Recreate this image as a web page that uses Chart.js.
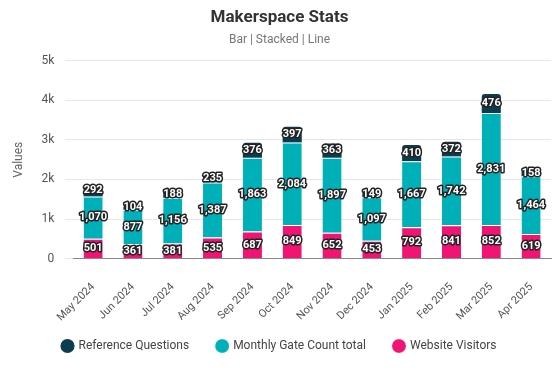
<!DOCTYPE html>
<html>
<head>
<meta charset="utf-8">
<script src="https://cdn.jsdelivr.net/npm/chart.js@4"></script>
<style>
  html, body { margin: 0; padding: 0; background: #fff; }
  #wrap { width: 560px; height: 374px; }
</style>
</head>
<body>
<div id="wrap"><canvas id="myChart"></canvas></div>
<script>
// chart data
var months = ["May 2024", "Jun 2024", "Jul 2024", "Aug 2024", "Sep 2024", "Oct 2024",
              "Nov 2024", "Dec 2024", "Jan 2025", "Feb 2025", "Mar 2025", "Apr 2025"];
var websiteVisitors = [501, 361, 381, 535, 687, 849, 652, 453, 792, 841, 852, 619];
var gateCount = [1070, 877, 1156, 1387, 1863, 2084, 1897, 1097, 1667, 1742, 2831, 1464];
var refQuestions = [292, 104, 188, 235, 376, 397, 363, 149, 410, 372, 476, 158];
var yTicks = [0, 1000, 2000, 3000, 4000, 5000];

// draws the outlined value labels in the middle of each segment
var segLabels = {
    id: "segLabels",
    afterDatasetsDraw: function(chart) {
        var ctx = chart.ctx;
        ctx.save();
        ctx.font = "bold 11px Roboto";
        ctx.textAlign = "center";
        ctx.textBaseline = "middle";
        ctx.lineJoin = "round";
        chart.data.datasets.forEach(function(ds, i) {
            var meta = chart.getDatasetMeta(i);
            if (meta.hidden) return;
            meta.data.forEach(function(bar, j) {
                var txt = ds.data[j].toLocaleString("en-US");
                var y = (bar.y + bar.base) / 2;
                ctx.lineWidth = 3;
                ctx.strokeStyle = "#222";
                ctx.strokeText(txt, bar.x, y);
                ctx.fillStyle = "#fff";
                ctx.fillText(txt, bar.x, y);
            });
        });
        ctx.restore();
    }
};

// legend keeps wide gaps between items but takes less height
var SHRINK = 26;
var legendShift = {
    id: "legendShift",
    beforeLayout: function(chart) {
        var lg = chart.legend;
        if (!lg || lg._patched) return;
        var fit = lg.fit;
        lg.fit = function() { fit.call(this); this.height -= SHRINK; };
        lg._patched = true;
    },
    afterLayout: function(chart) {
        chart.legend.top -= SHRINK;
        chart.legend.height += SHRINK;
    }
};

var ctx = document.getElementById("myChart");
var chart = new Chart(ctx, {
    type: "bar",
    data: {
        labels: months,
        datasets: [{
            label: "Website Visitors",
            backgroundColor: "#f01473",
            borderColor: "#ffffff",
            borderWidth: {top: 1},
            borderSkipped: "bottom",
            data: websiteVisitors
        }, {
            label: "Monthly Gate Count total",
            backgroundColor: "#00b0b9",
            borderColor: "#ffffff",
            borderWidth: {top: 1},
            borderSkipped: "bottom",
            data: gateCount
        }, {
            label: "Reference Questions",
            backgroundColor: "#0b3d4f",
            borderColor: "#ffffff",
            borderWidth: 0,
            borderRadius: {topLeft: 3, topRight: 3},
            borderSkipped: "bottom",
            data: refQuestions
        }]
    },
    options: {
        responsive: true,
        maintainAspectRatio: false,
        animation: false,
        layout: {padding: {left: 8, right: 9, top: 4, bottom: 12}},
        datasets: {bar: {categoryPercentage: 0.8, barPercentage: 0.6}},
        plugins: {
            title: {
                display: true,
                text: "Makerspace Stats",
                color: "#333",
                font: {family: "Roboto", size: 17, weight: "bold"},
                padding: {top: 4, bottom: 4}
            },
            subtitle: {
                display: true,
                text: "Bar | Stacked | Line",
                color: "#777",
                font: {family: "Roboto", size: 12},
                padding: {bottom: 14}
            },
            legend: {
                position: "bottom",
                reverse: true,
                labels: {
                    usePointStyle: true,
                    pointStyle: "circle",
                    boxWidth: 10,
                    boxHeight: 10,
                    padding: 28,
                    color: "#444",
                    font: {family: "Roboto", size: 12}
                }
            },
            tooltip: {enabled: false}
        },
        scales: {
            x: {
                stacked: true,
                grid: {display: false},
                border: {color: "#888"},
                ticks: {
                    maxRotation: 45,
                    minRotation: 45,
                    padding: 14,
                    color: "#555",
                    font: {family: "Roboto", size: 11}
                }
            },
            y: {
                stacked: true,
                min: 0,
                max: 5000,
                afterBuildTicks: function(axis) {
                    axis.ticks = yTicks.map(function(v) { return {value: v}; });
                },
                grid: {color: "#e6e6e6"},
                border: {display: false},
                title: {
                    display: true,
                    text: "Values",
                    color: "#666",
                    font: {family: "Roboto", size: 12},
                    padding: {top: 4, bottom: 4}
                },
                ticks: {
                    color: "#555",
                    padding: 11,
                    font: {family: "Roboto", size: 12},
                    callback: function(v) { return v === 0 ? "0" : (v / 1000) + "k"; }
                }
            }
        }
    },
    plugins: [segLabels, legendShift]
});
</script>
</body>
</html>
